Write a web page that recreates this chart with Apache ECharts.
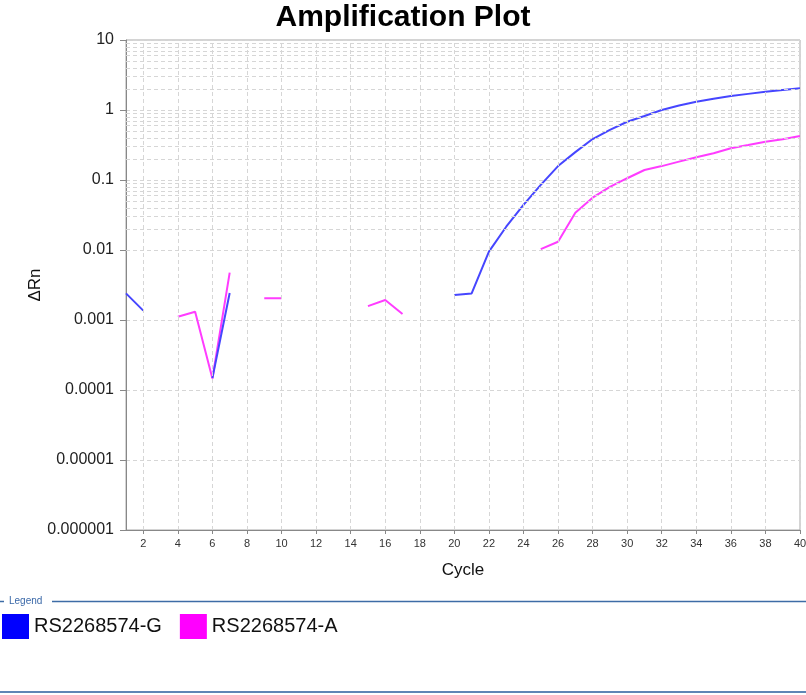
<!DOCTYPE html>
<html>
<head>
<meta charset="utf-8">
<script src="https://cdn.jsdelivr.net/npm/echarts@6/dist/echarts.min.js"></script>
<style>html,body{margin:0;padding:0;background:#fff;}#c{width:806px;height:695px;}</style>
</head>
<body>
<div id="c"></div>
<script>
// ---- data ----
var cycles = [];
for (var i = 1; i <= 40; i++) cycles.push(i);
var seriesNames = ['RS2268574-G', 'RS2268574-A'];
var valuesG = [0.0024, 0.00136, null, null, null, 0.000148, 0.00243, null, null, null,
  null, null, null, null, null, null, null, null, null, 0.00228,
  0.0024, 0.0095, 0.0215, 0.044, 0.085, 0.158, 0.25, 0.385, 0.52, 0.68,
  0.82, 1.0, 1.16, 1.31, 1.45, 1.58, 1.70, 1.82, 1.93, 2.04];
var valuesA = [null, null, null, 0.00111, 0.00131, 0.000146, 0.00474, null, 0.00204, 0.00204,
  null, null, null, null, 0.00158, 0.00193, 0.00122, null, null, null,
  null, null, null, null, 0.0103, 0.0131, 0.0341, 0.0559, 0.080, 0.106,
  0.139, 0.158, 0.183, 0.211, 0.241, 0.284, 0.316, 0.353, 0.381, 0.425];
var xTicks = [2, 4, 6, 8, 10, 12, 14, 16, 18, 20, 22, 24, 26, 28, 30, 32, 34, 36, 38, 40];
var yMin = 1e-6, yMax = 10;

// ---- helpers ----
function pairs(vals) { return cycles.map(function (c, i) { return [c, vals[i]]; }); }
function fmtY(v) {
  var e = Math.round(Math.log(v) / Math.LN10);
  if (e >= 0) return String(Math.pow(10, e));
  return '0.' + new Array(-e).join('0') + '1';
}
var FONT = 'Liberation Sans, Arial, sans-serif';
var gridStyle = { color: '#d6d6d6', type: [4, 3], width: 1 };
var gridLines = [];
for (var e = -6; e < 1; e++) {
  for (var m = 2; m <= 9; m++) gridLines.push({ yAxis: m * Math.pow(10, e) });
}
xTicks.forEach(function (t) { gridLines.push({ xAxis: t }); });

var chart = echarts.init(document.getElementById('c'), null, { renderer: 'canvas' });
chart.setOption({
  backgroundColor: '#fff',
  animation: false,
  title: {
    text: 'Amplification Plot', left: 'center', top: -2,
    textStyle: { fontFamily: FONT, fontSize: 30, fontWeight: 'bold', color: '#000' }
  },
  grid: { left: 126, right: 6, top: 40, bottom: 165, show: true, borderColor: '#a8a8a8', borderWidth: 1, outerBoundsMode: 'none', containLabel: false },
  xAxis: {
    type: 'value', min: 1, max: 40,
    name: 'Cycle', nameLocation: 'middle', nameGap: 32,
    nameTextStyle: { fontFamily: FONT, fontSize: 17, color: '#111' },
    axisLine: { lineStyle: { color: '#888' } },
    axisTick: { show: true, length: 4, customValues: xTicks, lineStyle: { color: '#888' } },
    axisLabel: { customValues: xTicks, fontFamily: FONT, fontSize: 11, color: '#333', margin: 8 },
    splitLine: { show: false }
  },
  yAxis: {
    type: 'log', logBase: 10, min: yMin, max: yMax,
    name: 'ΔRn', nameLocation: 'middle', nameGap: 82, nameMoveOverlap: false,
    nameTextStyle: { fontFamily: FONT, fontSize: 17, color: '#111' },
    axisLine: { show: true, lineStyle: { color: '#888' } },
    axisTick: { show: true, length: 6, lineStyle: { color: '#888' } },
    axisLabel: { formatter: fmtY, fontFamily: FONT, fontSize: 16, color: '#222', margin: 12 },
    splitLine: { show: true, lineStyle: gridStyle }
  },
  legend: {
    data: [
      { name: seriesNames[0], icon: 'rect', itemStyle: { color: '#0000ff' } },
      { name: seriesNames[1], icon: 'rect', itemStyle: { color: '#ff00ff' } }
    ],
    left: -3, top: 609, itemWidth: 27, itemHeight: 25, itemGap: 18,
    textStyle: { fontFamily: FONT, fontSize: 20, color: '#111' }
  },
  graphic: [
    { type: 'line', shape: { x1: 0, y1: 601.5, x2: 4, y2: 601.5 }, style: { stroke: '#3d6ca6', lineWidth: 1.5 } },
    { type: 'text', left: 9, top: 596, style: { text: 'Legend', fontFamily: FONT, fontSize: 10, fill: '#3a68a8' } },
    { type: 'line', shape: { x1: 52, y1: 601.5, x2: 806, y2: 601.5 }, style: { stroke: '#3d6ca6', lineWidth: 1.5 } },
    { type: 'line', shape: { x1: 0, y1: 692, x2: 806, y2: 692 }, style: { stroke: '#5f86b5', lineWidth: 2 } }
  ],
  series: [
    {
      name: 'grid', type: 'line', data: [], silent: true,
      markLine: { silent: true, symbol: 'none', label: { show: false }, lineStyle: gridStyle, data: gridLines, animation: false }
    },
    {
      name: seriesNames[1], type: 'line', data: pairs(valuesA), showSymbol: false, symbol: 'none',
      connectNulls: false, lineStyle: { color: '#ff3cff', width: 2 }, itemStyle: { color: '#ff00ff' }
    },
    {
      name: seriesNames[0], type: 'line', data: pairs(valuesG), showSymbol: false, symbol: 'none',
      connectNulls: false, lineStyle: { color: '#4646ff', width: 2 }, itemStyle: { color: '#0000ff' }
    }
  ]
});
</script>
</body>
</html>
